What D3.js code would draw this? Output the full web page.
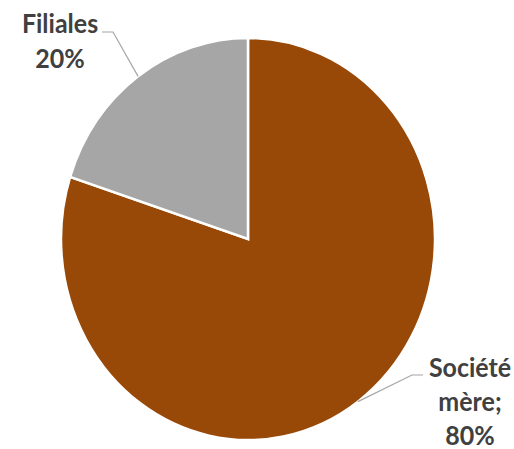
<!DOCTYPE html>
<html><head><meta charset="utf-8">
<script src="https://cdn.jsdelivr.net/npm/d3@7"></script>
<style>body{margin:0;background:#fff}svg{display:block}</style>
</head><body>
<script>
const categories = ["Société mère", "Filiales"];
const values = [80, 20];
const labelLines = [["Société", "mère;", "80%"], ["Filiales", "20%"]];
const colors = ["#984807", "#A6A6A6"];

const W = 514, H = 449;
const cx = 248, cy = 239, rx = 187, ry = 201;
const svg = d3.select("body").append("svg").attr("width", W).attr("height", H);

const pie = d3.pie().sort(null).value(d => d)(values);
const arc = d3.arc().innerRadius(0).outerRadius(rx);
const color = d3.scaleOrdinal().domain(categories).range(colors);

const g = svg.append("g").attr("transform", `translate(${cx},${cy}) scale(1,${ry/rx})`);
g.selectAll("path").data(pie).join("path")
  .attr("d", arc)
  .attr("fill", (d, i) => color(categories[i]))
  .attr("stroke", "#fff").attr("stroke-width", 2.5)
  .attr("vector-effect", "non-scaling-stroke")
  .attr("stroke-linejoin", "miter");

// leader lines and labels
const labelPos = [
  { x: 470, y: 377, elbow: [412, 423], ey: 375, lh: 34 },
  { x: 60, y: 33, elbow: [113, 102], ey: 32, lh: 35 }
];
pie.forEach((d, i) => {
  const a = (d.startAngle + d.endAngle) / 2;
  const px = cx + Math.sin(a) * rx, py = cy - Math.cos(a) * ry;
  const lp = labelPos[i];
  svg.append("polyline")
    .attr("points", `${px},${py} ${lp.elbow[0]},${lp.ey} ${lp.elbow[1]},${lp.ey}`)
    .attr("fill", "none").attr("stroke", "#A6A6A6").attr("stroke-width", 1.2);
  labelLines[i].forEach((s, k) => {
    svg.append("text")
      .attr("transform", `translate(${lp.x},${lp.y + k * lp.lh}) scale(1,1.1)`)
      .attr("text-anchor", "middle")
      .attr("font-family", "Lato, 'Open Sans', sans-serif")
      .attr("font-weight", "bold").attr("font-size", 25)
      .attr("fill", "#404040")
      .text(s);
  });
});
</script>
</body></html>
